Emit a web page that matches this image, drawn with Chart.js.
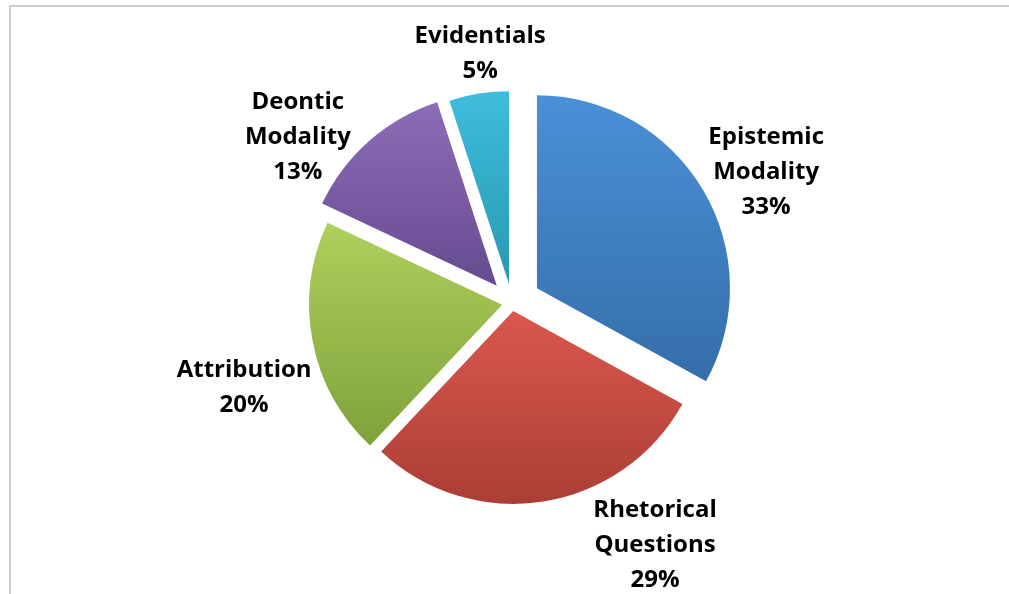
<!DOCTYPE html>
<html>
<head>
<meta charset="utf-8">
<script src="https://cdn.jsdelivr.net/npm/chart.js@4.4.1/dist/chart.umd.min.js"></script>
<style>
  html, body { margin: 0; padding: 0; background: #fff; overflow: hidden; }
  #wrap { position: relative; width: 1009px; height: 594px; }
  #frame { position: absolute; left: 9px; top: 5px; width: 1100px; height: 700px;
           border-top: 2px solid #cdcdcd; border-left: 2px solid #cdcdcd; pointer-events: none; }
</style>
</head>
<body>
<div id="wrap">
  <canvas id="pieChart"></canvas>
  <div id="frame"></div>
</div>
<script>
// data
const categories = [["Epistemic", "Modality"], ["Rhetorical", "Questions"], ["Attribution"], ["Deontic", "Modality"], ["Evidentials"]];
const shares = [33, 29, 20, 13, 5];

// look of the slices
const topColors = ["#4b92da", "#d9574d", "#afcf5c", "#8f70bb", "#40c0de"];
const bottomColors = ["#3670ab", "#a83d34", "#7ea23a", "#6a4e93", "#2a9db6"];
const explode = [29, 8, 10, 23, 19];   // px each slice is pulled out
const pieRadius = 193;
// label placement: extra distance past the rim and a small turn (degrees)
const labelGap = [93, 88, 88, 78, 58];
const labelTurn = [3.3, -21.6, -6.8, -10.8, 1.7];

const total = shares.reduce((a, b) => a + b, 0);

function sliceGradient(c) {
  const i = c.dataIndex;
  const chart = c.chart;
  const area = chart.chartArea;
  if (!area || i === undefined) return topColors[i] || '#888';
  const cy = (area.top + area.bottom) / 2;
  let a0 = -Math.PI / 2;
  for (let j = 0; j < i; j++) a0 += shares[j] / total * Math.PI * 2;
  const a1 = a0 + shares[i] / total * Math.PI * 2;
  const mid = (a0 + a1) / 2;
  const oy = cy + Math.sin(mid) * explode[i];
  let minY = oy, maxY = oy;
  for (let k = 0; k <= 30; k++) {
    const y = oy + Math.sin(a0 + (a1 - a0) * k / 30) * pieRadius;
    minY = Math.min(minY, y);
    maxY = Math.max(maxY, y);
  }
  const g = chart.ctx.createLinearGradient(0, minY, 0, maxY);
  g.addColorStop(0, topColors[i]);
  g.addColorStop(1, bottomColors[i]);
  return g;
}

// pull slices out without Chart.js growing the radius of small ones
const explodeSlices = {
  id: 'explodeSlices',
  afterUpdate(chart) {
    chart.getDatasetMeta(0).data.forEach((el, i) => {
      const baseDraw = Object.getPrototypeOf(el).draw;
      el.draw = function (ctx) {
        const a = (this.startAngle + this.endAngle) / 2;
        ctx.save();
        ctx.translate(Math.cos(a) * explode[i], Math.sin(a) * explode[i]);
        baseDraw.call(this, ctx);
        ctx.restore();
      };
    });
  }
};

// draws category + percent outside each slice
const outsideLabels = {
  id: 'outsideLabels',
  afterDatasetsDraw(chart) {
    const ctx = chart.ctx;
    const meta = chart.getDatasetMeta(0);
    ctx.save();
    ctx.font = 'bold 24px "Open Sans"';
    ctx.fillStyle = '#000';
    ctx.textAlign = 'center';
    ctx.textBaseline = 'middle';
    meta.data.forEach((arc, i) => {
      const p = arc.getProps(['x', 'y', 'startAngle', 'endAngle', 'outerRadius'], true);
      const ang = (p.startAngle + p.endAngle) / 2 + labelTurn[i] * Math.PI / 180;
      const d = p.outerRadius + labelGap[i];
      const lx = p.x + Math.cos(ang) * d;
      const ly = p.y + Math.sin(ang) * d;
      const lines = categories[i].concat([Math.round(shares[i] / total * 100) + '%']);
      const lh = 35;
      const y0 = ly - (lines.length - 1) * lh / 2;
      lines.forEach((t, k) => ctx.fillText(t, lx, y0 + k * lh));
    });
    ctx.restore();
  }
};

const ctx = document.getElementById('pieChart').getContext('2d');
const chart = new Chart(ctx, {
  type: 'pie',
  data: {
    labels: categories.map(c => c.join(' ')),
    datasets: [{
      data: shares,
      backgroundColor: sliceGradient,
      borderWidth: 0,
      hoverOffset: 0,
      radius: pieRadius
    }]
  },
  options: {
    responsive: true,
    maintainAspectRatio: false,
    animation: false,
    events: [],
    layout: { padding: { left: 15, right: 0, top: 12, bottom: 0 } },
    plugins: {
      legend: { display: false },
      tooltip: { enabled: false }
    }
  },
  plugins: [explodeSlices, outsideLabels]
});
</script>
</body>
</html>
